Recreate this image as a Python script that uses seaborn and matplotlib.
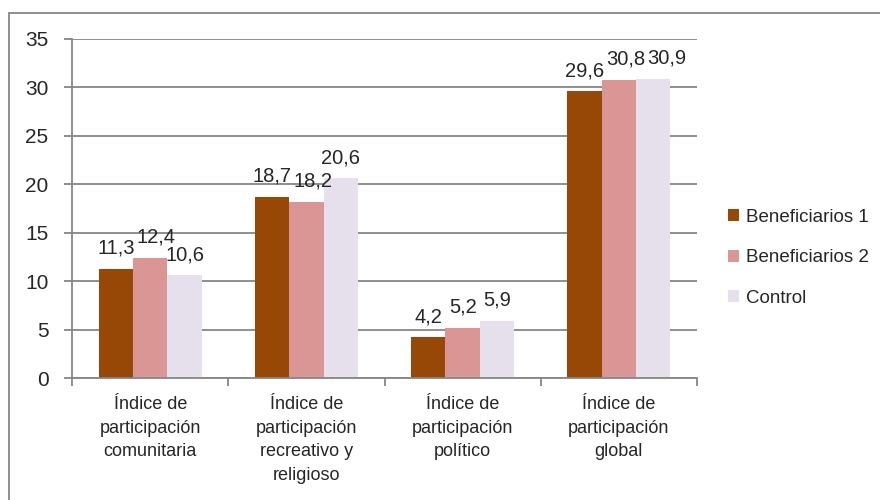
import matplotlib
matplotlib.use("Agg")
import matplotlib.pyplot as plt
import seaborn as sns
import pandas as pd
from matplotlib.patches import Rectangle

categories = ["Índice de\nparticipación\ncomunitaria",
              "Índice de\nparticipación\nrecreativo y\nreligioso",
              "Índice de\nparticipación\npolítico",
              "Índice de\nparticipación\nglobal"]
series = ["Beneficiarios 1", "Beneficiarios 2", "Control"]
benef1 = [11.3, 18.7, 4.2, 29.6]
benef2 = [12.4, 18.2, 5.2, 30.8]
control = [10.6, 20.6, 5.9, 30.9]
colors = ["#974706", "#D99694", "#E6E0EC"]

rows = []
for s, vals in zip(series, [benef1, benef2, control]):
    for c, v in zip(categories, vals):
        rows.append({"cat": c, "serie": s, "val": v})
df = pd.DataFrame(rows)

sns.set_theme(style="white")
plt.rcParams['font.family'] = ['Liberation Sans', 'DejaVu Sans']

fig = plt.figure(figsize=(8.8, 5.0), dpi=100)
ax = fig.add_axes([0.082, 0.244, 0.710, 0.678])
sns.barplot(data=df, x="cat", y="val", hue="serie", palette=colors,
            width=0.66, ax=ax, saturation=1, errorbar=None, edgecolor="none")

ax.set_ylim(0, 35)
ax.set_xlim(-0.5, len(categories) - 0.5)
ax.set_yticks(range(0, 36, 5))
ax.yaxis.grid(True, color="#868686", linewidth=1.3)
ax.set_axisbelow(True)
for side in ["top", "right"]:
    ax.spines[side].set_visible(False)
for side in ["left", "bottom"]:
    ax.spines[side].set_color("#868686")
    ax.spines[side].set_linewidth(1.3)
ax.tick_params(axis="y", which="major", left=True, length=6, color="#868686",
               width=1.3, labelsize=15, pad=11)
ax.tick_params(axis="x", which="major", bottom=False, labelsize=13, pad=7)
ax.set_xticks([i - 0.5 for i in range(len(categories) + 1)], minor=True)
ax.tick_params(axis="x", which="minor", bottom=True, length=6, color="#868686", width=1.3)
ax.set_xlabel("")
ax.set_ylabel("")
for lbl in ax.get_xticklabels():
    lbl.set_linespacing(1.5)

all_labels = []
for cont in ax.containers:
    labs = ax.bar_label(cont, labels=[f"{b.get_height():.1f}".replace('.', ',') for b in cont],
                        fontsize=14.5, padding=8)
    all_labels.append(labs)

leg = ax.legend(loc="center left", bbox_to_anchor=(1.022, 0.354), frameon=False,
                fontsize=13.5, handlelength=0.6, handleheight=0.6,
                labelspacing=1.25, handletextpad=0.4)

fig.patches.append(Rectangle((0.010, -0.1), 1.2, 1.074, transform=fig.transFigure,
                             fill=False, edgecolor="#868686", linewidth=1.3))

# nudge data labels that would collide with their left neighbour (as Excel does)
fig.canvas.draw()
r = fig.canvas.get_renderer()
for i in range(len(categories)):
    for k in range(1, len(all_labels)):
        prev = all_labels[k - 1][i]
        cur = all_labels[k][i]
        bp = prev.get_window_extent(r)
        bc = cur.get_window_extent(r)
        if bp.x1 > bc.x0 and bp.y1 > bc.y0 + 4 and bc.y1 > bp.y0 + 4:
            dx = (bp.x1 - bc.x0 + 2) * 72 / fig.dpi
            x, y = cur.xyann
            cur.xyann = (x + dx, y)
            fig.canvas.draw()

fig.savefig("out.png", dpi=100)
